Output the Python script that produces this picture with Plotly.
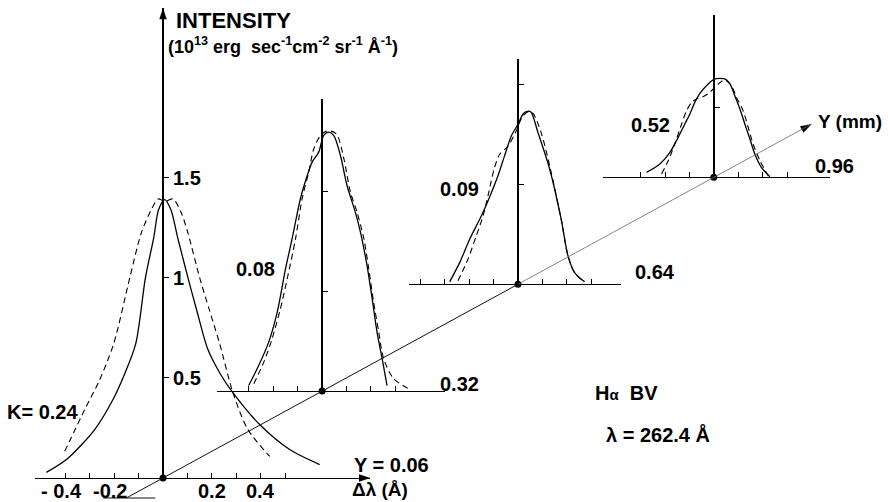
import math
import plotly.graph_objects as go

W, H = 888, 502

# ---------------------------------------------------------------- data
# slit position Y (mm) of each profile and the K value written beside it
y_pos = [0.06, 0.32, 0.64, 0.96]
y_labels = ["Y = 0.06", "0.32", "0.64", "0.96"]
k_labels = ["K= 0.24", "0.08", "0.09", "0.52"]

# profiles: wavelength offset (Å) and intensity (10^13 erg s^-1 cm^-2 sr^-1 Å^-1)
p1_solid_dl = [-0.478, -0.396, -0.280, -0.205, -0.160, -0.112, -0.072, -0.038, -0.018,
               0.007, 0.032, 0.060, 0.102, 0.140, 0.184, 0.235, 0.287, 0.396, 0.519, 0.642]
p1_solid_i = [0.028, 0.092, 0.242, 0.392, 0.512, 0.670, 1.002, 1.202, 1.342,
              1.392, 1.342, 1.202, 1.002, 0.830, 0.642, 0.520, 0.425, 0.267, 0.142, 0.067]
p1_dash_dl = [-0.403, -0.321, -0.260, -0.202, -0.136, -0.089, -0.048, -0.020, 0.007, 0.041,
              0.075, 0.102, 0.150, 0.190, 0.232, 0.287, 0.348, 0.437]
p1_dash_i = [0.133, 0.342, 0.490, 0.672, 1.002, 1.225, 1.342, 1.395, 1.383, 1.395,
             1.325, 1.225, 1.002, 0.840, 0.672, 0.425, 0.242, 0.108]

p2_solid_dl = [-0.301, -0.260, -0.219, -0.184, -0.150, -0.123, -0.089, -0.061, -0.041, -0.014,
               0.007, 0.027, 0.048, 0.075, 0.102, 0.136, 0.157, 0.184, 0.205, 0.225, 0.246, 0.266]
p2_solid_i = [0.028, 0.128, 0.245, 0.395, 0.612, 0.762, 0.962, 1.078, 1.145, 1.195,
              1.280, 1.295, 1.278, 1.178, 1.028, 0.895, 0.795, 0.628, 0.462, 0.295, 0.162, 0.028]
p2_dash_dl = [-0.280, -0.239, -0.205, -0.171, -0.143, -0.109, -0.082, -0.055, -0.034, -0.007,
              0.014, 0.037, 0.061, 0.089, 0.116, 0.143, 0.171, 0.191, 0.211, 0.232, 0.252, 0.293, 0.355]
p2_dash_i = [0.037, 0.145, 0.262, 0.412, 0.562, 0.762, 0.962, 1.095, 1.212, 1.278,
             1.298, 1.300, 1.282, 1.162, 0.995, 0.895, 0.762, 0.612, 0.445, 0.295, 0.162, 0.062, 0.012]

p3_solid_dl = [-0.280, -0.239, -0.198, -0.150, -0.109, -0.082, -0.055, -0.027, 0.000, 0.020,
               0.034, 0.052, 0.082, 0.130, 0.177, 0.205, 0.232, 0.273]
p3_solid_i = [0.012, 0.108, 0.225, 0.342, 0.458, 0.542, 0.642, 0.742, 0.800, 0.850,
              0.863, 0.862, 0.758, 0.575, 0.325, 0.142, 0.058, 0.012]
p3_dash_dl = [-0.246, -0.205, -0.171, -0.143, -0.120, -0.098, -0.075, -0.041, -0.007, 0.016,
              0.041, 0.061, 0.095, 0.130, 0.177, 0.205, 0.232, 0.270]
p3_dash_i = [0.017, 0.125, 0.242, 0.342, 0.458, 0.575, 0.650, 0.690, 0.767, 0.833,
             0.863, 0.855, 0.758, 0.592, 0.325, 0.142, 0.058, 0.012]

p4_solid_dl = [-0.276, -0.221, -0.180, -0.146, -0.119, -0.098, -0.078, -0.057, -0.030, 0.004,
               0.045, 0.066, 0.086, 0.107, 0.127, 0.148, 0.168, 0.195, 0.230]
p4_solid_i = [0.025, 0.067, 0.125, 0.200, 0.267, 0.317, 0.375, 0.420, 0.458, 0.492,
              0.492, 0.467, 0.408, 0.342, 0.267, 0.192, 0.117, 0.050, 0.003]
p4_dash_dl = [-0.214, -0.187, -0.160, -0.132, -0.112, -0.091, -0.071, -0.044, -0.016, 0.018,
              0.045, 0.072, 0.093, 0.120, 0.141, 0.161, 0.189, 0.223]
p4_dash_i = [0.017, 0.083, 0.167, 0.267, 0.333, 0.375, 0.392, 0.403, 0.425, 0.467,
             0.487, 0.458, 0.400, 0.333, 0.250, 0.167, 0.083, 0.008]

solid_dl = [p1_solid_dl, p2_solid_dl, p3_solid_dl, p4_solid_dl]
solid_i = [p1_solid_i, p2_solid_i, p3_solid_i, p4_solid_i]
dash_dl = [p1_dash_dl, p2_dash_dl, p3_dash_dl, p4_dash_dl]
dash_i = [p1_dash_i, p2_dash_i, p3_dash_i, p4_dash_i]

# axis ticks of each panel
x_ticks = [
    [-0.4, -0.3, -0.2, -0.1, 0.0, 0.1, 0.2, 0.3, 0.4, 0.5],
    [-0.3, -0.2, -0.1, 0.0, 0.1, 0.2, 0.3],
    [-0.4, -0.3, -0.2, -0.1, 0.0, 0.1, 0.2, 0.3],
    [-0.3, -0.2, -0.1, 0.0, 0.1, 0.2, 0.3],
]
y_ticks = [[0.5, 1.0, 1.5], [0.5, 1.0], [0.5, 1.0], [0.35]]
p1_xtick_vals = [-0.4, -0.2, 0.2, 0.4]
p1_xtick_text = ["- 0.4", "-0.2", "0.2", "0.4"]
p1_ytick_vals = [0.5, 1.0, 1.5]
p1_ytick_text = ["0.5", "1", "1.5"]
y_arrow_end = 1.12  # Y (mm) where the oblique axis ends

# ---------------------------------------------------------------- geometry / style
PX_PER_A = 244.0             # pixels per Å along each wavelength axis
PX_PER_I = 200.0             # pixels per intensity unit
Y0_PX = (126.3, 498.0)       # pixel position of Y = 0 on the oblique axis
PX_PER_MM = (612.0, -334.0)  # pixel step per mm along the oblique axis

dl_lo = [-0.525, -0.43, -0.445, -0.455]
dl_hi = [0.85, 0.505, 0.424, 0.475]
i_top = [2.35, 1.46, 1.125, 0.81]

k_off = [(-83, 66), (-45, 122), (-37, 95), (-42, 52)]
ylab_off = [(189, 13), (116, 7), (115, 12), (99, 11)]

FONT = "Liberation Sans, Arial, Helvetica, sans-serif"


def oblique(y):
    return Y0_PX[0] + PX_PER_MM[0] * y, Y0_PX[1] + PX_PER_MM[1] * y


def px(x):
    return x / W


def py(y):
    return 1 - y / H


fig = go.Figure()
layout = {}
annotations = []
shapes = []


def arrowhead(xa, ya, x, y, angle):
    fig.add_trace(go.Scatter(
        x=[x], y=[y], xaxis=xa, yaxis=ya, mode="markers",
        marker=dict(symbol="arrow", size=12, angle=angle, color="black",
                    line=dict(width=0)),
        cliponaxis=False, hoverinfo="skip", showlegend=False,
    ))


for k, yv in enumerate(y_pos):
    n = k + 1
    sfx = "" if n == 1 else str(n)
    ox, oy = oblique(yv)
    xd = [px(ox + dl_lo[k] * PX_PER_A), px(ox + dl_hi[k] * PX_PER_A)]
    yd = [(H - oy) / H, (H - oy + i_top[k] * PX_PER_I) / H]
    layout["xaxis" + sfx] = dict(
        domain=xd, range=[dl_lo[k], dl_hi[k]], anchor="y" + sfx,
        showline=True, linecolor="black", linewidth=1,
        ticks="inside", ticklen=5, tickwidth=1, tickcolor="black",
        tickvals=x_ticks[k], showticklabels=False,
        showgrid=False, zeroline=False, fixedrange=True,
    )
    layout["yaxis" + sfx] = dict(
        domain=yd, range=[0, i_top[k]], anchor="free", position=px(ox),
        showline=True, linecolor="black", linewidth=1.6,
        ticks="inside", ticklen=5, tickwidth=1, tickcolor="black",
        tickvals=y_ticks[k], showticklabels=False,
        showgrid=False, zeroline=False, fixedrange=True,
    )
    xa, ya = "x" + sfx, "y" + sfx
    fig.add_trace(go.Scatter(
        x=solid_dl[k], y=solid_i[k], xaxis=xa, yaxis=ya, mode="lines",
        line=dict(color="black", width=1.3, shape="spline", smoothing=0.8),
        hoverinfo="skip", showlegend=False,
    ))
    fig.add_trace(go.Scatter(
        x=dash_dl[k], y=dash_i[k], xaxis=xa, yaxis=ya, mode="lines",
        line=dict(color="black", width=1.1, dash="6px,4px", shape="spline", smoothing=0.8),
        hoverinfo="skip", showlegend=False,
    ))
    fig.add_trace(go.Scatter(
        x=[0], y=[0], xaxis=xa, yaxis=ya, mode="markers",
        marker=dict(color="black", size=7), cliponaxis=False,
        hoverinfo="skip", showlegend=False,
    ))
    # K label left of the profile, Y label at the right end of the base line
    dx, dy = k_off[k]
    annotations.append(dict(
        x=px(ox + dx), y=py(oy - dy), xref="paper", yref="paper",
        text="<b>%s</b>" % k_labels[k], showarrow=False,
        xanchor="right", yanchor="middle", font=dict(family=FONT, size=20, color="black"),
    ))
    dx, dy = ylab_off[k]
    annotations.append(dict(
        x=px(ox + dx), y=py(oy - dy), xref="paper", yref="paper",
        text="<b>%s</b>" % y_labels[k], showarrow=False,
        xanchor="left", yanchor="middle", font=dict(family=FONT, size=20, color="black"),
    ))

# tick labels of the front panel
for v, t in zip(p1_xtick_vals, p1_xtick_text):
    annotations.append(dict(
        x=v, y=0, xref="x", yref="y", text="<b>%s</b>" % t, showarrow=False,
        xanchor="center", yanchor="middle", yshift=-13, xshift=-4 if v < 0 else 0,
        font=dict(family=FONT, size=20, color="black"),
    ))
for v, t in zip(p1_ytick_vals, p1_ytick_text):
    annotations.append(dict(
        x=0, y=v, xref="x", yref="y", text="<b>%s</b>" % t, showarrow=False,
        xanchor="left", yanchor="middle", xshift=8,
        font=dict(family=FONT, size=20, color="black"),
    ))

# arrowheads of the front panel axes
arrowhead("x", "y", 0, i_top[0], 0)
arrowhead("x", "y", dl_hi[0], 0, 90)

# oblique Y (mm) axis through the panel origins
p0 = oblique(0.0)
pm = oblique(y_pos[2])
pe = oblique(y_arrow_end)
shapes.append(dict(type="line", xref="paper", yref="paper",
                   x0=px(p0[0]), y0=py(p0[1]), x1=px(pm[0]), y1=py(pm[1]),
                   line=dict(color="#111", width=1)))
shapes.append(dict(type="line", xref="paper", yref="paper",
                   x0=px(pm[0]), y0=py(pm[1]), x1=px(pe[0]), y1=py(pe[1]),
                   line=dict(color="#666", width=0.8)))
shapes.append(dict(type="line", xref="paper", yref="paper",
                   x0=px(p0[0] - 23), y0=py(p0[1]), x1=px(p0[0] + 29), y1=py(p0[1]),
                   line=dict(color="#111", width=1)))
# arrowhead of the oblique axis, placed in the last panel's frame
dY = y_arrow_end - y_pos[3]
arrowhead("x4", "y4", dY * PX_PER_MM[0] / PX_PER_A, -dY * PX_PER_MM[1] / PX_PER_I,
          90 - math.degrees(math.atan2(-PX_PER_MM[1], PX_PER_MM[0])))


def label(x, y, text, size=20, anchor="left"):
    annotations.append(dict(
        x=px(x), y=py(y), xref="paper", yref="paper", text=text, showarrow=False,
        xanchor=anchor, yanchor="middle", font=dict(family=FONT, size=size, color="black"),
    ))


label(174, 21, "<b>INTENSITY</b>", size=22)
label(166, 45, "<b>(10<sup>13</sup> erg  sec<sup>-1</sup>cm<sup>-2</sup> sr<sup>-1</sup> Å<sup>-1</sup>)</b>", size=18)
label(350, 489, "<b>Δλ (Å)</b>", size=19)
label(pe[0] + 4, pe[1] - 2, "<b>Y (mm)</b>", size=19)
label(593, 393, "<b>H<span style='font-size:15px'>α</span>  BV</b>", size=20)
label(604, 434, "<b>λ = 262.4 Å</b>", size=20)

fig.update_layout(
    width=W, height=H, margin=dict(l=0, r=0, t=0, b=0),
    paper_bgcolor="white", plot_bgcolor="rgba(0,0,0,0)",
    showlegend=False, annotations=annotations, shapes=shapes,
    **layout,
)

fig.write_html("out.html")
